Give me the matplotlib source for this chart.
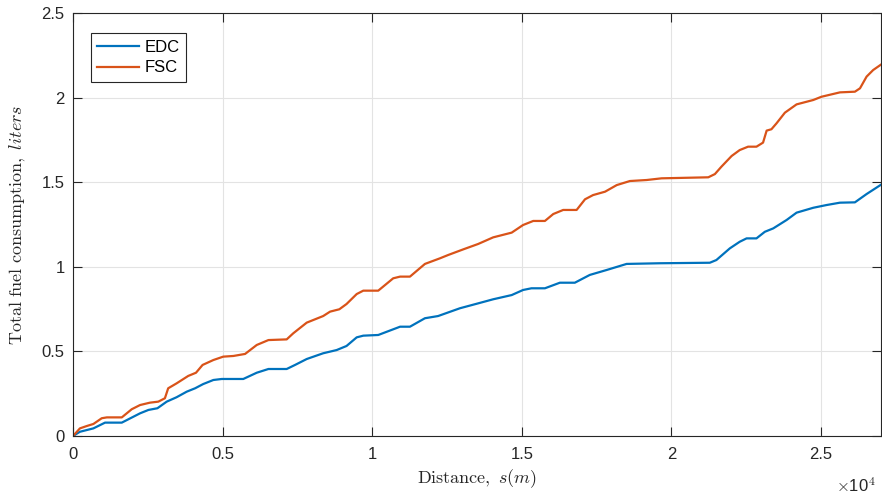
import numpy as np
import matplotlib
matplotlib.use('Agg')
import matplotlib.pyplot as plt
from matplotlib.ticker import FuncFormatter

plt.rcParams['font.family'] = ['Liberation Sans', 'DejaVu Sans']
plt.rcParams['mathtext.fontset'] = 'cm'

# distances in metres, cumulative fuel in litres
edc_x = [0, 230, 680, 1070, 1630, 2240, 2520, 2820, 3130, 3460, 3800, 4080, 4350,
         4690, 4970, 5690, 6140, 6530, 7140, 7420, 7810, 8360, 8810, 9140, 9480,
         9700, 10200, 10930, 11260, 11760, 12200, 12930, 13540, 14040, 14660,
         15040, 15320, 15770, 16270, 16770, 17270, 17830, 18500, 19610, 21280,
         21500, 21950, 22280, 22510, 22840, 23120, 23400, 23850, 24180, 24740,
         25180, 25630, 26130, 26520, 27000]
edc_y = [0, 0.025, 0.045, 0.079, 0.079, 0.134, 0.154, 0.164, 0.203, 0.229, 0.262,
         0.282, 0.307, 0.331, 0.337, 0.337, 0.374, 0.396, 0.396, 0.42, 0.455,
         0.489, 0.508, 0.532, 0.583, 0.593, 0.597, 0.646, 0.646, 0.696, 0.709,
         0.755, 0.784, 0.808, 0.833, 0.863, 0.873, 0.873, 0.906, 0.906, 0.952,
         0.981, 1.017, 1.021, 1.024, 1.04, 1.109, 1.148, 1.168, 1.168, 1.207,
         1.227, 1.277, 1.32, 1.349, 1.365, 1.379, 1.381, 1.43, 1.485]

fsc_x = [0, 230, 460, 680, 960, 1130, 1630, 1960, 2240, 2570, 2850, 3070, 3180,
         3460, 3850, 4110, 4330, 4690, 5020, 5360, 5750, 6140, 6530, 7140, 7360,
         7810, 8360, 8590, 8900, 9140, 9480, 9700, 10200, 10700, 10930, 11260,
         11760, 12260, 12540, 13040, 13540, 14040, 14660, 15040, 15380, 15770,
         16050, 16380, 16830, 17110, 17380, 17780, 18170, 18610, 19170, 19670,
         21230, 21450, 21670, 22010, 22280, 22560, 22840, 23060, 23180, 23340,
         23510, 23790, 24180, 24740, 25010, 25630, 26130, 26300, 26520, 26740, 27000]
fsc_y = [0, 0.045, 0.059, 0.071, 0.105, 0.11, 0.11, 0.158, 0.183, 0.197, 0.203,
         0.223, 0.282, 0.311, 0.355, 0.374, 0.42, 0.449, 0.469, 0.473, 0.485,
         0.538, 0.567, 0.571, 0.607, 0.67, 0.709, 0.735, 0.749, 0.78, 0.839,
         0.859, 0.859, 0.932, 0.942, 0.942, 1.017, 1.05, 1.07, 1.103, 1.135,
         1.174, 1.202, 1.247, 1.271, 1.271, 1.312, 1.336, 1.336, 1.399, 1.424,
         1.444, 1.483, 1.507, 1.513, 1.523, 1.529, 1.548, 1.592, 1.655, 1.69,
         1.71, 1.71, 1.734, 1.805, 1.813, 1.848, 1.911, 1.96, 1.986, 2.005,
         2.031, 2.035, 2.055, 2.124, 2.163, 2.195]

x_ticks = [0, 5000, 10000, 15000, 20000, 25000]
y_ticks = [0, 0.5, 1, 1.5, 2, 2.5]

fig = plt.figure(figsize=(8.82, 4.95), dpi=100)
ax = fig.add_axes([0.0828, 0.1192, 0.9160, 0.8545])

ax.plot(edc_x, edc_y, color='#0072BD', lw=1.6, label='EDC',
        solid_joinstyle='round')
ax.plot(fsc_x, fsc_y, color='#D95319', lw=1.6, label='FSC',
        solid_joinstyle='round')

ax.set_xlim(0, 27000)
ax.set_ylim(0, 2.5)
ax.set_xticks(x_ticks)
ax.set_yticks(y_ticks)
ax.xaxis.set_major_formatter(FuncFormatter(lambda v, p: '%g' % (v / 1e4)))
ax.yaxis.set_major_formatter(FuncFormatter(lambda v, p: '%g' % v))
ax.tick_params(direction='in', length=6.5, width=0.8, colors='#262626',
               labelsize=12, top=True, right=True)
ax.tick_params(axis='x', pad=8)
ax.tick_params(axis='y', pad=6)
ax.grid(True, color='#e3e3e3', lw=0.8)
ax.set_axisbelow(True)
for s in ax.spines.values():
    s.set_color('#262626')
    s.set_linewidth(0.8)

ax.set_xlabel(r'$\mathrm{Distance,}\ s(m)$', fontsize=13, color='#262626', labelpad=4)
ax.set_ylabel(r'$\mathrm{Total\ fuel\ consumption,}\ liters$', fontsize=13,
              color='#262626', labelpad=10)
ax.text(0.994, -0.118, r'$\times$10$^4$', transform=ax.transAxes, ha='right',
        va='center', fontsize=12, color='#262626', family='Liberation Sans')

leg = ax.legend(loc='upper left', bbox_to_anchor=(0.022, 0.953), fontsize=12,
                fancybox=False, edgecolor='#262626', framealpha=1,
                handlelength=2.5, borderpad=0.4, labelspacing=0.35,
                handletextpad=0.3, borderaxespad=0)
leg.get_frame().set_linewidth(0.8)

plt.savefig('out.png', dpi=100)
